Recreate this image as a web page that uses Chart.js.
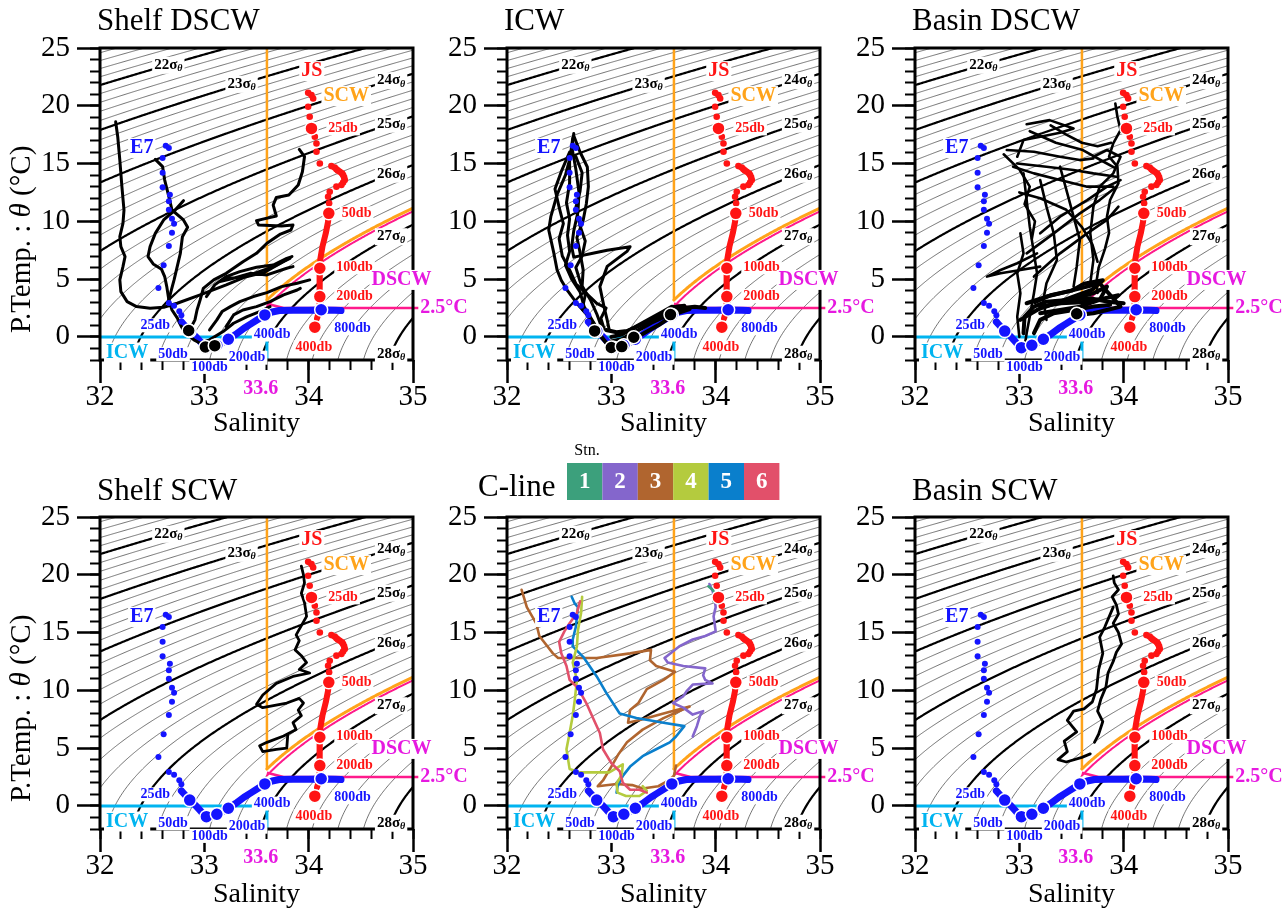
<!DOCTYPE html>
<html>
<head>
<meta charset="utf-8">
<title>T-S diagrams</title>
<script src="https://cdn.jsdelivr.net/npm/chart.js@4.4.1/dist/chart.umd.min.js"></script>
<style>
html,body{margin:0;padding:0;background:#fff;}
#wrap{position:relative;width:1288px;height:911px;overflow:hidden;background:#fff;}
#wrap canvas{position:absolute;}
</style>
</head>
<body>
<div id="wrap"></div>
<script>
// ================= DATA =================
const salinityMajorTicks = [32, 33, 34, 35];
const salinityMinorTicks = [32, 32.2, 32.4, 32.6, 32.8, 33, 33.2, 33.4, 33.6, 33.8, 34, 34.2, 34.4, 34.6, 34.8, 35];
const tempMajorTicks = [0, 5, 10, 15, 20, 25];
const tempMinorTicks = [-2, -1, 0, 1, 2, 3, 4, 5, 6, 7, 8, 9, 10, 11, 12, 13, 14, 15, 16, 17, 18, 19, 20, 21, 22, 23, 24, 25];

// potential density anomaly levels (sigma-theta)
const sigmaMajor = [21, 22, 23, 24, 25, 26, 27, 28];
const sigmaMinor = [20.2, 20.4, 20.6, 20.8, 21.2, 21.4, 21.6, 21.8, 22.2, 22.4, 22.6, 22.8,
  23.2, 23.4, 23.6, 23.8, 24.2, 24.4, 24.6, 24.8, 25.2, 25.4, 25.6, 25.8, 26.2, 26.4, 26.6, 26.8,
  27.2, 27.4, 27.6, 27.8, 28.2, 28.4, 28.6, 28.8];
const sigmaLabelLevels = [22, 23, 24, 25, 26, 27, 28];
const scwSigma = 26.75;
const dscwSigma = 26.8;

// water-mass boundaries
const icwHoriz = [[32, 0], [33.6, 0]];
const icwVert = [[33.6, 0], [33.6, -2]];
const dscwStep = [[33.6, 2.87], [33.76, 2.5], [35.06, 2.5]];

// E7 station profile
const e7Shallow = [[32.63,16.55],[32.66,16.35],[32.60,15.47],[32.60,14.2],[32.60,12.94],[32.67,12.3],[32.66,11.73],
  [32.66,11.0],[32.69,10.23],[32.71,9.8],[32.69,9.02],[32.66,7.87],[32.61,6.2],[32.56,4.24],[32.66,2.94],[32.71,2.7],
  [32.76,2.22],[32.78,1.88],[32.78,1.3]];
const e7Deep = [[32.78,1.3],[32.82,0.9],[32.86,0.5],[32.92,0.0],[32.97,-0.5],[33.02,-0.93],[33.07,-0.85],[33.12,-0.72],
  [33.18,-0.45],[33.23,-0.2],[33.3,0.2],[33.38,0.75],[33.45,1.15],[33.52,1.55],[33.58,1.9],[33.65,2.15],[33.72,2.28],
  [33.85,2.3],[34.0,2.3],[34.12,2.33],[34.25,2.3],[34.31,2.28]];
const e7Depth = [[32.86,0.5],[33.02,-0.93],[33.12,-0.72],[33.23,-0.2],[33.58,1.9],[34.12,2.35]];

// JS station profile
const jsShallow = [[33.995,21.12],[34.027,20.92],[34.043,20.63],[33.995,19.91],[34.01,19.05],[34.059,17.32],[34.075,16.74],
  [34.075,16.02],[34.107,15.01],[34.218,14.78],[34.25,14.65],[34.266,14.5],[34.28,14.4],[34.298,14.29],[34.32,14.15],
  [34.33,14.0],[34.34,13.8],[34.346,13.57],[34.33,13.35],[34.314,13.14],[34.266,13.0],[34.202,12.56],[34.186,12.13],[34.196,11.56]];
const jsDeep = [[34.193,10.69],[34.186,9.97],[34.164,8.96],[34.132,7.81],[34.113,6.8],[34.107,5.94],[34.107,4.78],
  [34.107,3.49],[34.1,2.33],[34.08,1.6]];
const jsDepth = [[34.027,18.04],[34.193,10.69],[34.107,5.94],[34.107,3.49],[34.059,0.84]];

// Shelf DSCW profiles
const shelfDSCW1 = [[32.15,18.62],[32.17,17.32],[32.19,15.3],[32.21,13.0],[32.23,10.98],[32.22,9.83],[32.19,8.67],[32.2,7.81],
  [32.24,6.95],[32.22,6.08],[32.19,4.93],[32.2,3.92],[32.26,3.05],[32.35,2.62],[32.48,2.48],[32.61,2.56],[32.74,2.91],
  [32.96,3.63],[33.21,4.5],[33.44,5.36],[33.66,6.08],[33.82,6.8]];
const shelfDSCW2 = [[32.53,15.36],[32.6,14.73],[32.62,13.57],[32.66,12.13],[32.69,10.98],[32.8,10.12],[32.84,9.48],[32.79,8.67],
  [32.77,7.23],[32.74,6.08],[32.71,4.93],[32.68,3.92],[32.66,3.2],[32.69,2.33],[32.74,1.64],[32.78,0.89],[32.81,0.46]];
const shelfDSCW3 = [[32.8,11.79],[32.72,10.98],[32.61,10.12],[32.53,8.96],[32.48,7.81],[32.46,6.95],[32.51,6.31],[32.59,5.85],
  [32.62,5.22],[32.64,4.35],[32.66,3.2]];
const shelfDSCW4 = [[33.91,16.22],[33.96,15.59],[33.94,14.29],[33.9,13.14],[33.81,12.28],[33.69,12.07],[33.66,11.41],[33.69,10.46],
  [33.5,10.06],[33.52,9.68],[33.74,9.6],[33.85,9.68],[33.83,9.25],[33.73,8.9],[33.6,8.1],[33.5,7.23],[33.37,6.51],[33.21,5.5],
  [33.09,4.93],[32.99,4.2],[32.96,3.2],[32.93,2.33],[32.91,1.47],[32.86,0.6]];
const shelfDSCW5 = [[33.02,3.49],[33.1,4.5],[33.21,5.22],[33.34,5.65],[33.5,6.02],[33.66,6.22],[33.79,6.8],[33.84,6.95],[33.73,6.37],
  [33.57,5.56],[33.41,5.22],[33.25,5.07],[33.15,4.78],[33.28,5.07],[33.44,5.5],[33.6,5.36],[33.79,5.94],[33.85,6.08]];
const shelfDSCW6 = [[33.05,0.6],[33.12,1.47],[33.17,2.19],[33.25,2.62],[33.34,3.05],[33.47,3.49],[33.6,3.83],[33.74,4.35],
  [33.89,4.64],[34.01,4.93]];
const shelfDSCW7 = [[33.21,0.89],[33.28,1.9],[33.37,2.33],[33.5,2.62],[33.63,3.05],[33.76,3.63],[33.89,4.06],[33.92,4.2]];
const shelfDSCW8 = [[32.82,0.37],[32.9,-0.26],[32.96,-0.55],[33.05,-0.26],[33.18,0.46],[33.28,1.18],[33.41,1.76],[33.53,2.19],[33.63,2.62]];
const shelfDSCWMarks = [[32.85,0.55],[33.01,-0.88],[33.1,-0.76]];

// ICW profiles
const icw1 = [[32.64,17.6],[32.62,16.0],[32.56,14.0],[32.48,12.3],[32.42,10.4],[32.4,9.25],[32.45,7.2],[32.48,5.8],[32.52,4.9],
  [32.58,4.0],[32.67,2.9],[32.77,1.9],[32.85,0.6]];
const icw2 = [[32.64,17.4],[32.7,16.0],[32.77,14.7],[32.78,13.0],[32.76,11.5],[32.73,10.1],[32.67,8.6],[32.7,7.3],[32.73,5.8],
  [32.72,4.4],[32.8,3.2],[32.86,2.0],[32.9,1.0]];
const icw3 = [[32.63,17.2],[32.6,15.2],[32.6,13.3],[32.57,11.6],[32.6,10.2],[32.58,8.8],[32.6,7.4],[32.56,6.2],[32.62,5.0],
  [32.7,3.9],[32.74,2.6],[32.82,1.4],[32.88,0.5]];
const icw4 = [[32.62,16.5],[32.66,14.5],[32.69,12.5],[32.68,10.8],[32.64,9.2],[32.62,7.8],[32.64,6.9],[32.8,7.2],[32.96,7.5],
  [33.18,7.8],[33.15,7.4],[32.96,6.1],[32.89,4.35],[32.93,2.6],[32.96,1.47],[32.98,0.6]];
const icw5 = [[32.6,16.0],[32.52,14.3],[32.46,12.8],[32.5,11.2],[32.54,9.8],[32.5,8.5],[32.53,7.0],[32.6,5.8],[32.66,4.6],
  [32.78,3.6],[32.86,2.9],[32.95,2.5],[32.9,1.6],[32.93,0.7]];
const icw6 = [[32.66,15.6],[32.72,14.2],[32.7,12.6],[32.66,11.2],[32.7,9.6],[32.75,8.3],[32.72,7.0],[32.66,6.0],[32.7,4.8],
  [32.75,3.6],[32.72,2.4],[32.8,1.6],[32.9,0.2]];
const icw7 = [[32.88,0.3],[32.95,-0.5],[33.05,-0.6],[33.15,-0.4],[33.25,0.0],[33.35,0.5],[33.45,1.0],[33.55,1.6],[33.65,2.1],[33.75,2.4]];
const icw8 = [[32.95,0.6],[33.05,0.4],[33.15,0.5],[33.25,0.9],[33.35,1.3],[33.45,1.8],[33.55,2.2],[33.62,2.6],[33.7,2.7]];
const icw9 = [[33.0,0.0],[33.1,0.2],[33.2,0.7],[33.3,1.2],[33.4,1.7],[33.5,2.2],[33.58,2.6],[33.68,2.5],[33.8,2.6],[33.9,2.5]];
const icw10 = [[33.0,-0.4],[33.1,-0.2],[33.2,0.3],[33.3,0.8],[33.4,1.3],[33.5,1.7],[33.6,2.3],[33.72,2.4]];
const icwMarks = [[32.84,0.52],[33.0,-0.92],[33.1,-0.84],[33.215,-0.03],[33.567,1.93]];

// Basin DSCW profiles
const basinDSCW1 = [[33.07,18.4],[33.29,18.76],[33.52,18.04],[33.39,17.67],[33.2,17.32],[33.04,17.03],[32.98,15.59]];
const basinDSCW2 = [[32.88,16.17],[33.14,16.02],[33.39,15.59],[33.58,15.3],[33.71,15.45]];
const basinDSCW3 = [[32.98,15.0],[33.26,14.73],[33.52,14.44],[33.71,14.15],[33.93,13.86]];
const basinDSCW4 = [[33.04,14.15],[33.07,11.84],[33.1,9.54],[33.14,7.23],[33.17,5.5],[33.14,3.78],[33.1,1.76],[33.07,0.32],[33.05,-0.84]];
const basinDSCW5 = [[33.92,20.2],[33.94,19.05],[33.97,17.9],[33.9,16.75],[33.86,15.6],[33.94,14.73],[33.95,13.3],[33.87,11.85],
  [33.84,10.4],[33.86,9.0],[33.82,7.6],[33.76,6.0],[33.74,4.8],[33.75,3.8]];
const basinDSCW6 = [[33.2,13.57],[33.26,11.27],[33.33,8.96],[33.36,6.66],[33.26,4.64],[33.23,3.2],[33.26,1.47]];
const basinDSCW7 = [[33.39,14.73],[33.46,12.42],[33.52,10.4],[33.58,8.39],[33.55,6.08],[33.52,4.35]];
const basinDSCW8 = [[33.07,7.23],[33.33,8.96],[33.58,10.69],[33.77,11.84],[33.93,13.0]];
const basinDSCW9 = [[33.14,5.22],[33.39,7.23],[33.65,8.96],[33.84,10.12],[33.95,11.27]];
const basinDSCW10 = [[33.2,8.96],[33.39,10.4],[33.65,11.84],[33.84,13.0],[33.97,13.57]];
const basinDSCW11 = [[33.17,7.23],[32.98,6.37],[32.82,5.79],[32.69,5.22],[32.82,5.5],[33.01,5.79],[33.2,6.08]];
const basinDSCW12 = [[32.94,14.73],[33.14,14.15],[33.39,13.57],[33.65,13.0],[33.9,13.0]];
const basinDSCW13 = [[33.71,15.59],[33.84,16.17],[33.97,15.59],[33.9,14.15],[33.77,13.0],[33.71,11.27],[33.68,8.96],[33.71,6.66],[33.68,4.64]];
const basinDSCW14 = [[33.01,1.47],[33.17,2.33],[33.33,2.91],[33.52,3.34],[33.71,3.78],[33.84,4.35],[33.77,3.2],[33.58,2.62],[33.39,2.33],[33.2,2.05]];
const basinDSCW15 = [[33.07,2.91],[33.26,3.49],[33.46,3.92],[33.65,4.35],[33.77,4.64],[33.97,2.62],[33.84,2.33],[33.71,2.05],[33.55,1.9]];
const basinDSCW16 = [[33.04,0.32],[33.05,1.76],[33.14,2.62],[33.26,3.05],[33.46,3.2],[33.68,3.34],[33.84,3.05],[34.0,2.91]];
const basinDSCW17 = [[33.14,0.32],[33.2,1.47],[33.33,2.05],[33.52,2.33],[33.71,2.62],[33.87,2.77]];
const basinDSCW18 = [[33.0,0.0],[32.98,1.76],[33.01,3.78],[32.98,5.5],[33.04,7.23],[33.01,8.96]];
const basinDSCW19 = [[32.85,15.8],[33.0,14.5],[33.1,13.0],[33.05,11.5],[33.15,10.0],[33.12,8.5]];
const basinDSCW20 = [[33.1,17.8],[33.35,16.8],[33.6,16.2],[33.8,15.2],[33.92,14.6]];
const basinDSCW21 = [[33.3,18.3],[33.45,17.5],[33.6,16.8],[33.75,16.5],[33.88,16.8]];
const basinDSCW22 = [[33.0,12.5],[33.2,12.0],[33.45,11.0],[33.6,9.5],[33.7,8.0],[33.75,6.5]];
const basinDSCW23 = [[33.15,3.0],[33.3,3.6],[33.5,4.0],[33.62,4.6],[33.8,4.9],[33.7,4.1],[33.55,3.6],[33.4,3.1],[33.25,2.6]];
const basinDSCW24 = [[33.2,2.6],[33.4,2.9],[33.6,3.0],[33.8,3.3],[33.95,3.6]];
const basinDSCWMarks = [[33.55,2.0]];

// Shelf SCW profile
const shelfSCW1 = [[33.93,20.75],[33.95,20.0],[33.96,19.3],[33.93,18.4],[33.96,17.6],[33.98,16.4],[33.93,15.6],[33.88,14.8],
  [33.91,14.3],[33.87,13.5],[33.93,13.0],[33.98,12.4],[33.91,11.8],[34.01,11.5],[33.85,11.2],[33.69,10.6],[33.56,9.6],[33.5,8.8],
  [33.56,8.5],[33.79,8.9],[33.91,9.3],[33.95,8.9],[33.9,8.3],[33.93,7.8],[33.85,7.2],[33.88,6.6],[33.76,6.05],[33.6,5.5],
  [33.53,5.2],[33.56,4.7],[33.69,4.9],[33.79,5.0],[33.8,6.2]];

// Basin SCW profiles
const basinSCW1 = [[33.9,19.9],[33.91,19.3],[33.95,18.7],[33.89,18.1],[33.93,17.4],[33.95,16.6],[33.9,15.8],[33.95,15.0],[33.98,14.0],
  [33.93,13.3],[33.9,12.5],[33.85,11.5],[33.83,10.3],[33.78,9.2],[33.75,8.2],[33.8,7.3],[33.76,6.2],[33.72,5.5]];
const basinSCW2 = [[33.9,17.2],[33.82,15.5],[33.77,14.6],[33.8,13.2],[33.76,11.8],[33.74,10.1],[33.7,9.0],[33.62,8.4],[33.52,8.2],
  [33.46,7.4],[33.55,6.4],[33.43,5.6],[33.46,4.7],[33.37,4.0],[33.45,3.8],[33.6,4.2],[33.68,4.5]];

// C-line stations 1-6
const stationLabels = ['1', '2', '3', '4', '5', '6'];
const cline1 = [[33.93,19.0],[33.97,18.7],[34.0,18.3],[34.02,18.0],[33.98,17.7]];
const cline2 = [[33.94,19.2],[33.97,18.6],[33.99,18.0],[34.0,17.2],[33.98,16.4],[33.99,15.8],[34.0,15.1],[33.9,14.7],[33.78,14.4],
  [33.65,13.8],[33.58,13.3],[33.51,12.8],[33.54,12.4],[33.69,12.1],[33.9,11.9],[33.88,11.3],[33.9,10.9],[33.97,10.6],[33.78,10.5],
  [33.72,9.9],[33.69,9.5],[33.59,8.9],[33.69,8.5],[33.78,7.9],[33.88,8.2],[33.85,7.8],[33.82,6.9],[33.78,6.0]];
const cline3 = [[32.14,18.7],[32.19,17.2],[32.28,15.8],[32.31,14.7],[32.44,13.2],[32.49,12.8],[32.86,12.8],[33.18,13.2],[33.38,13.5],
  [33.37,12.6],[33.43,12.1],[33.61,11.6],[33.5,10.9],[33.34,10.1],[33.26,8.9],[33.18,8.3],[33.16,7.2],[33.3,7.5],[33.5,8.0],
  [33.75,8.6],[33.5,7.6],[33.3,6.6],[33.15,5.5],[33.07,4.5],[33.0,3.4],[32.92,2.2],[32.87,1.7],[33.05,1.9],[33.2,1.8],[33.3,1.5],
  [33.45,1.7],[33.55,2.2],[33.6,2.6],[33.62,3.5]];
const cline4 = [[32.72,18.1],[32.71,16.7],[32.68,15.2],[32.67,13.8],[32.63,12.4],[32.67,10.9],[32.65,9.2],[32.63,7.8],[32.6,6.3],
  [32.57,4.9],[32.6,3.2],[32.7,2.9],[32.98,2.9],[33.11,3.6],[33.1,2.7],[33.05,1.9],[33.06,1.15],[33.14,0.86],[33.27,0.86],
  [33.34,1.3],[33.3,1.7]];
const cline5 = [[32.62,18.1],[32.65,17.5],[32.68,17.2],[32.66,15.5],[32.63,14.4],[32.63,13.8],[32.73,12.9],[32.86,11.2],[32.95,9.8],
  [33.08,8.0],[33.24,7.6],[33.5,7.2],[33.7,6.9],[33.62,6.0],[33.56,5.5],[33.43,4.9],[33.3,4.3],[33.18,3.4],[33.11,2.6],[33.06,1.7],[33.05,1.15]];
const cline6 = [[32.7,17.7],[32.67,16.7],[32.6,15.8],[32.55,15.1],[32.5,14.2],[32.52,13.2],[32.57,12.1],[32.6,10.9],[32.68,10.2],
  [32.76,8.9],[32.83,7.5],[32.89,6.3],[32.92,4.9],[33.0,3.7],[33.08,3.0],[33.11,2.0],[33.18,1.4],[33.27,1.4],[33.34,1.15]];

// ================= RENDERING =================
const SERIF = '"Liberation Serif","Times New Roman",Times,serif';
const COL = { blue: '#1414ff', red: '#ff1414', orange: '#ffa31a', magText: '#e619e0', magLine: '#ff1a8c',
  cyan: '#00b4f0', thin: '#3a3a3a' };
const stationColors = ['#3ca07c', '#8466cc', '#b0652f', '#b4cb3e', '#0a7fcc', '#e2506a'];

Chart.defaults.font.family = SERIF;

function sigma0(S, T) {
  const T2 = T * T, T3 = T2 * T, T4 = T3 * T, T5 = T4 * T;
  const rw = 999.842594 + 6.793952e-2 * T - 9.095290e-3 * T2 + 1.001685e-4 * T3 - 1.120083e-6 * T4 + 6.536332e-9 * T5;
  const A = 8.24493e-1 - 4.0899e-3 * T + 7.6438e-5 * T2 - 8.2467e-7 * T3 + 5.3875e-9 * T4;
  const B = -5.72466e-3 + 1.0227e-4 * T - 1.6546e-6 * T2;
  return rw + A * S + B * Math.pow(S, 1.5) + 4.8314e-4 * S * S - 1000;
}
function isoT(sig, S) {
  let lo = -2.6, hi = 32;
  if (sigma0(S, lo) < sig || sigma0(S, hi) > sig) return null;
  for (let i = 0; i < 40; i++) { const m = (lo + hi) / 2; if (sigma0(S, m) > sig) lo = m; else hi = m; }
  return (lo + hi) / 2;
}
function isoCurve(sig, s0, s1) {
  const pts = [];
  const n = Math.round((s1 - s0) / 0.01);
  for (let i = 0; i <= n; i++) {
    const S = s0 + i * 0.01;
    const T = isoT(sig, S);
    if (T !== null) pts.push({ x: S, y: T });
  }
  return pts;
}
const isoMinorPts = sigmaMinor.map(s => isoCurve(s, 31.95, 35.05));
const isoMajorPts = sigmaMajor.map(s => isoCurve(s, 31.95, 35.05));
const scwCurve = isoCurve(scwSigma, 33.6, 35.02);
const dscwCurve = isoCurve(dscwSigma, 33.6, 35.02);
const scwVertical = [{ x: 33.6, y: 26 }, { x: 33.6, y: scwCurve[0].y }];

const toXY = a => a.map(p => Array.isArray(p) ? { x: p[0], y: p[1] } : p);
function lineDS(pts, color, width, extra) {
  return Object.assign({ data: toXY(pts), showLine: true, borderColor: color, backgroundColor: color, borderWidth: width,
    pointRadius: 0, pointHoverRadius: 0, pointHitRadius: 0, borderCapStyle: 'round', borderJoinStyle: 'round',
    tension: 0, fill: false }, extra || {});
}
function dotDS(pts, color, r, bw, bc) {
  return { data: toXY(pts), showLine: false, pointRadius: r, pointHoverRadius: r, backgroundColor: color,
    borderColor: bc || color, borderWidth: bw || 0, pointStyle: 'circle' };
}

const panels = [
  { title: 'Shelf DSCW', col: 0, row: 0, yTitle: true, lw: 3,
    traces: [shelfDSCW1, shelfDSCW2, shelfDSCW3, shelfDSCW4, shelfDSCW5, shelfDSCW6, shelfDSCW7, shelfDSCW8], marks: shelfDSCWMarks },
  { title: 'ICW', col: 1, row: 0, lw: 3,
    traces: [icw1, icw2, icw3, icw4, icw5, icw6], heavy: [icw7, icw8, icw9, icw10], marks: icwMarks },
  { title: 'Basin DSCW', col: 2, row: 0, lw: 2.6,
    traces: [basinDSCW1, basinDSCW2, basinDSCW3, basinDSCW4, basinDSCW5, basinDSCW6, basinDSCW7, basinDSCW8, basinDSCW9,
      basinDSCW10, basinDSCW11, basinDSCW12, basinDSCW13, basinDSCW18, basinDSCW19, basinDSCW20, basinDSCW21, basinDSCW22],
    heavy: [basinDSCW14, basinDSCW15, basinDSCW16, basinDSCW17, basinDSCW23, basinDSCW24],
    marks: basinDSCWMarks },
  { title: 'Shelf SCW', col: 0, row: 1, yTitle: true, lw: 2.8, traces: [shelfSCW1] },
  { title: 'C-line', col: 1, row: 1, lw: 2.6, legend: true,
    traces: [cline3, cline5, cline4, cline6, cline2, cline1], colors: [stationColors[2], stationColors[4], stationColors[3], stationColors[5], stationColors[1], stationColors[0]] },
  { title: 'Basin SCW', col: 2, row: 1, lw: 2.8, traces: [basinSCW1, basinSCW2] }
];

const colLeft = [0, 407, 815];
const rows = [{ top: 0, h: 440, padTop: 48, titleY: 22 }, { top: 440, h: 471, padTop: 77, titleY: 52 }];
const CW = 480, PLOT_W = 313, PLOT_H = 312;

const annotLabels = [
  { t: 'JS', S: 34.03, T: 23.0, c: COL.red, s: 20 },
  { t: 'SCW', S: 34.36, T: 20.84, c: COL.orange, s: 20 },
  { t: '25db', S: 34.33, T: 18.04, c: COL.red, s: 14 },
  { t: '50db', S: 34.46, T: 10.69, c: COL.red, s: 14 },
  { t: '100db', S: 34.44, T: 6.02, c: COL.red, s: 14 },
  { t: '200db', S: 34.44, T: 3.54, c: COL.red, s: 14 },
  { t: '400db', S: 34.05, T: -0.9, c: COL.red, s: 14 },
  { t: '800db', S: 34.42, T: 0.75, c: COL.blue, s: 14 },
  { t: 'DSCW', S: 34.89, T: 4.93, c: COL.magText, s: 20 },
  { t: '2.5°C', S: 35.07, T: 2.5, c: COL.magText, s: 20, align: 'left' },
  { t: 'E7', S: 32.40, T: 16.35, c: COL.blue, s: 20 },
  { t: '25db', S: 32.53, T: 1.0, c: COL.blue, s: 14 },
  { t: '50db', S: 32.70, T: -1.5, c: COL.blue, s: 14 },
  { t: '100db', S: 33.05, T: -2.6, c: COL.blue, s: 14 },
  { t: '200db', S: 33.41, T: -1.8, c: COL.blue, s: 14 },
  { t: '400db', S: 33.65, T: 0.2, c: COL.blue, s: 14 },
  { t: 'ICW', S: 32.26, T: -1.35, c: COL.cyan, s: 20 }
];
const sigmaLabelSal = { 22: 32.655, 23: 33.357, 24: 34.79, 25: 34.79, 26: 34.79, 27: 34.79, 28: 34.79 };

function putText(ctx, text, x, y, size, color, align, bg, bold) {
  ctx.font = (bold === false ? '' : 'bold ') + size + 'px ' + SERIF;
  const w = ctx.measureText(text).width;
  const x0 = align === 'left' ? x : (align === 'right' ? x - w : x - w / 2);
  if (bg) { ctx.fillStyle = '#fff'; ctx.fillRect(x0 - 2, y - size * 0.5, w + 4, size * 1.0); }
  ctx.fillStyle = color; ctx.textAlign = 'left'; ctx.textBaseline = 'middle';
  ctx.fillText(text, x0, y);
}
function sigmaLabel(ctx, x, y, lev) {
  const main = lev + 'σ';
  ctx.font = 'bold 15px ' + SERIF;
  const w1 = ctx.measureText(main).width;
  ctx.font = 'italic bold 10px ' + SERIF;
  const w2 = ctx.measureText('θ').width;
  const w = w1 + w2, x0 = x - w / 2;
  ctx.fillStyle = '#fff'; ctx.fillRect(x0 - 2, y - 8, w + 4, 17);
  ctx.fillStyle = '#000'; ctx.textAlign = 'left'; ctx.textBaseline = 'middle';
  ctx.font = 'bold 15px ' + SERIF; ctx.fillText(main, x0, y);
  ctx.font = 'italic bold 10px ' + SERIF; ctx.fillText('θ', x0 + w1, y + 4);
}

function makeAnnot(def) {
  return {
    id: 'annot',
    afterDatasetsDraw(chart) {
      const { ctx, chartArea: a } = chart;
      ctx.save(); ctx.lineWidth = 3; ctx.strokeStyle = '#000';
      ctx.strokeRect(a.left, a.top, a.right - a.left, a.bottom - a.top);
      ctx.restore();
    },
    afterDraw(chart) {
      const { ctx, chartArea: a } = chart;
      const xs = chart.scales.x, ys = chart.scales.y;
      ctx.save();
      sigmaLabelLevels.forEach(lev => {
        const S = sigmaLabelSal[lev];
        const T = isoT(lev, S);
        if (T !== null) sigmaLabel(ctx, xs.getPixelForValue(S), ys.getPixelForValue(T), lev);
      });
      annotLabels.forEach(L => putText(ctx, L.t, xs.getPixelForValue(L.S), ys.getPixelForValue(L.T), L.s, L.c, L.align || 'center', true));
      putText(ctx, '33.6', xs.getPixelForValue(33.54), a.bottom + 29, 20, COL.magText, 'center', false);
      // panel title
      ctx.font = '31px ' + SERIF; ctx.fillStyle = '#000'; ctx.textAlign = 'left'; ctx.textBaseline = 'middle';
      ctx.fillText(def.title, def.legend ? 71 : 97, rows[def.row].titleY - (def.legend ? 4 : 0));
      // y axis title
      if (def.yTitle) {
        ctx.save();
        ctx.translate(22, a.bottom - 27);
        ctx.rotate(-Math.PI / 2);
        ctx.textBaseline = 'middle'; ctx.textAlign = 'left'; ctx.fillStyle = '#000';
        let x = 0;
        [['P.Temp. : ', 'normal'], ['θ', 'italic'], [' (°C)', 'normal']].forEach(([t, st]) => {
          ctx.font = st + ' 29px ' + SERIF; ctx.fillText(t, x, 0); x += ctx.measureText(t).width;
        });
        ctx.restore();
      }
      // station legend
      if (def.legend) {
        const bx = 160, by = 23, bw = 35.4, bh = 37;
        stationLabels.forEach((lab, i) => {
          ctx.fillStyle = stationColors[i];
          ctx.fillRect(bx + i * bw, by, bw, bh);
          ctx.fillStyle = '#fff'; ctx.font = 'bold 23px ' + SERIF; ctx.textAlign = 'center'; ctx.textBaseline = 'middle';
          ctx.fillText(lab, bx + i * bw + bw / 2, by + bh / 2 + 1);
        });
        ctx.fillStyle = '#000'; ctx.font = '16px ' + SERIF; ctx.textAlign = 'center';
        ctx.fillText('Stn.', 180, 11);
      }
      ctx.restore();
    }
  };
}

function buildDatasets(def) {
  const L = [];
  isoMinorPts.forEach(p => L.push(lineDS(p, COL.thin, 0.7, { borderCapStyle: 'butt' })));
  isoMajorPts.forEach(p => L.push(lineDS(p, '#000', 2.2, { borderCapStyle: 'butt' })));
  L.push(lineDS(icwHoriz, COL.cyan, 3, { borderCapStyle: 'butt' }));
  L.push(lineDS(icwVert, COL.cyan, 3, { borderCapStyle: 'butt' }));
  L.push(lineDS(scwVertical, COL.orange, 2.5, { borderCapStyle: 'butt' }));
  L.push(lineDS(scwCurve, COL.orange, 3));
  L.push(lineDS(dscwCurve, COL.magLine, 2));
  L.push(lineDS(dscwStep, COL.magLine, 2.5, { clip: false, borderCapStyle: 'butt' }));
  L.push(lineDS(e7Deep, COL.blue, 7));
  def.traces.forEach((t, i) => L.push(lineDS(t, def.colors ? def.colors[i] : '#000', def.lw)));
  (def.heavy || []).forEach(t => L.push(lineDS(t, '#000', 4)));
  L.push(dotDS(e7Shallow, COL.blue, 3));
  L.push(lineDS(jsDeep, COL.red, 6));
  L.push(dotDS(jsShallow, COL.red, 3.3));
  L.push(dotDS(e7Depth, COL.blue, 6.5, 1.5, '#fff'));
  L.push(dotDS(jsDepth, COL.red, 6.5, 1.5, '#fff'));
  if (def.marks) L.push(dotDS(def.marks, '#000', 6.5, 1.5, '#fff'));
  return L.reverse();
}

function scalesFor(xH) {
  const tickFont = { family: SERIF, size: 29, lineHeight: 1 };
  const setTicks = arr => s => { s.ticks = arr.map(v => ({ value: v })); };
  return {
    x: { type: 'linear', position: 'bottom', min: 32, max: 35, weight: 2,
      afterBuildTicks: setTicks(salinityMajorTicks), afterFit: s => { s.height = xH; },
      border: { display: false },
      grid: { drawOnChartArea: false, drawTicks: true, tickLength: 23, tickWidth: 2.5, tickColor: '#000' },
      ticks: { color: '#000', font: tickFont, padding: 0, maxRotation: 0, minRotation: 0, autoSkip: false },
      title: { display: true, text: 'Salinity', color: '#000', font: { family: SERIF, size: 28, lineHeight: 1.2 }, padding: 0 } },
    x2: { type: 'linear', position: 'bottom', min: 32, max: 35, weight: 1,
      afterBuildTicks: setTicks(salinityMinorTicks), afterFit: s => { s.height = 0; },
      border: { display: false },
      grid: { drawOnChartArea: false, drawTicks: true, tickLength: 10, tickWidth: 2, tickColor: '#000' },
      ticks: { display: false } },
    y: { type: 'linear', position: 'left', min: -2, max: 25, weight: 2,
      afterBuildTicks: setTicks(tempMajorTicks), afterFit: s => { s.width = 100; },
      border: { display: false },
      grid: { drawOnChartArea: false, drawTicks: true, tickLength: 23, tickWidth: 2.5, tickColor: '#000' },
      ticks: { color: '#000', font: tickFont, padding: 7, autoSkip: false } },
    y2: { type: 'linear', position: 'left', min: -2, max: 25, weight: 1,
      afterBuildTicks: setTicks(tempMinorTicks), afterFit: s => { s.width = 0; },
      border: { display: false },
      grid: { drawOnChartArea: false, drawTicks: true, tickLength: 10, tickWidth: 2, tickColor: '#000' },
      ticks: { display: false } }
  };
}

const wrap = document.getElementById('wrap');
panels.forEach(def => {
  const row = rows[def.row];
  const cv = document.createElement('canvas');
  cv.width = CW; cv.height = row.h;
  cv.style.left = colLeft[def.col] + 'px'; cv.style.top = row.top + 'px';
  cv.style.width = CW + 'px'; cv.style.height = row.h + 'px';
  wrap.appendChild(cv);
  const xH = row.h - row.padTop - PLOT_H;
  new Chart(cv, {
    type: 'scatter',
    data: { datasets: buildDatasets(def) },
    options: {
      responsive: false, animation: false, events: [], devicePixelRatio: 1,
      layout: { autoPadding: false, padding: { left: 0, right: CW - 100 - PLOT_W, top: row.padTop, bottom: 0 } },
      plugins: { legend: { display: false }, tooltip: { enabled: false }, title: { display: false } },
      scales: scalesFor(xH)
    },
    plugins: [makeAnnot(def)]
  });
});
</script>
</body>
</html>
